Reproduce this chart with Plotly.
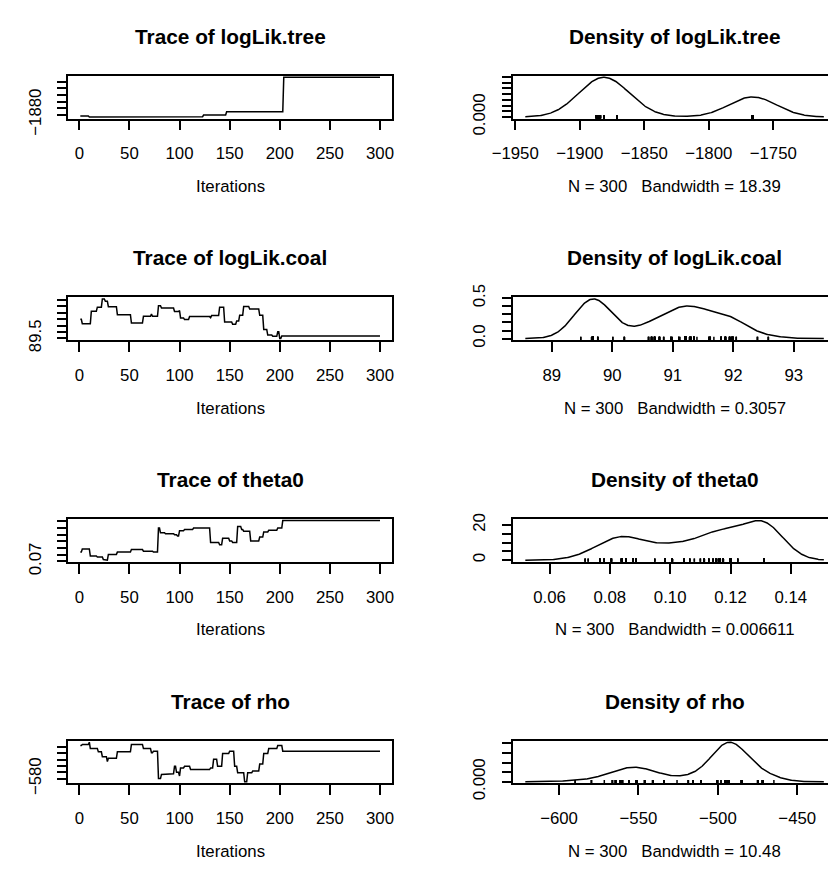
import numpy as np
import plotly.graph_objects as go

# ---------------- data ----------------
N_ITER = 300
ITERATIONS = np.arange(1, N_ITER + 1)

PARAMS = ["logLik.tree", "logLik.coal", "theta0", "rho"]
BANDWIDTHS = [18.39, 0.3057, 0.006611, 10.48]
BANDWIDTH_TEXT = ["18.39", "0.3057", "0.006611", "10.48"]

# Each chain is stored as runs: first iteration of a run and the value held there
TREE_RUN_START = [1, 10, 29, 101, 124, 147, 204]
TREE_RUN_VALUE = [-1884, -1887, -1885, -1886, -1881, -1871, -1766]

COAL_RUN_START = [1, 3, 12, 18, 23, 26, 29, 38, 52, 64, 72, 73, 79, 82, 95, 100, 101,
                  105, 110, 131, 132, 140, 145, 153, 157, 160, 164, 170, 180, 184, 188,
                  193, 198, 200, 202]
COAL_RUN_VALUE = [90.99, 90.65, 91.62, 91.94, 92.58, 92.40, 91.98, 91.35, 90.70, 91.22,
                  91.40, 91.22, 92.05, 91.87, 91.60, 91.68, 91.10, 90.97, 91.20, 91.12,
                  91.28, 91.94, 90.78, 90.60, 90.85, 91.30, 92.00, 91.80, 91.30, 90.20,
                  89.76, 89.66, 90.01, 89.48, 89.68]

THETA_RUN_START = [1, 3, 11, 18, 24, 26, 29, 38, 52, 64, 74, 79, 81, 86, 95, 98, 100,
                   105, 114, 131, 140, 143, 150, 153, 158, 162, 164, 171, 180, 184, 189,
                   198, 203]
THETA_RUN_VALUE = [0.0839, 0.0887, 0.0781, 0.0767, 0.0728, 0.0718, 0.0805, 0.0839,
                   0.0877, 0.0853, 0.0839, 0.1200, 0.1128, 0.1113, 0.1100, 0.1080,
                   0.1160, 0.1176, 0.1200, 0.0983, 0.0949, 0.1046, 0.1007, 0.0983,
                   0.1224, 0.1176, 0.1152, 0.1007, 0.1065, 0.1142, 0.1166, 0.1200,
                   0.1311]

RHO_RUN_START = [1, 3, 10, 11, 19, 23, 28, 29, 38, 52, 64, 72, 74, 79, 82, 86, 95, 97,
                 100, 101, 105, 111, 131, 134, 138, 143, 150, 155, 158, 165, 168, 173,
                 180, 184, 189, 198, 203]
RHO_RUN_VALUE = [-474.9, -471.8, -464.7, -485.0, -495.2, -510.5, -525.7, -515.6,
                 -495.2, -471.8, -485.0, -498.0, -493.0, -579.6, -566.4, -564.4,
                 -541.0, -560.0, -571.5, -546.1, -541.0, -551.2, -546.1, -518.6,
                 -541.0, -500.3, -493.2, -541.0, -561.3, -589.8, -561.3, -556.0,
                 -533.9, -500.3, -485.0, -474.9, -493.2]

# axis ticks and the labels R managed to print
TRACE_X_TICKS = [0, 50, 100, 150, 200, 250, 300]
TRACE_Y_TICKS = [
    [-1880, -1860, -1840, -1820, -1800, -1780],
    [89.5, 90.0, 90.5, 91.0, 91.5, 92.0, 92.5],
    [0.07, 0.08, 0.09, 0.10, 0.11, 0.12, 0.13],
    [-580, -560, -540, -520, -500, -480],
]
TRACE_Y_LABELS = [
    ["\u22121880", "", "", "", "", ""],
    ["89.5", "", "", "", "", "", ""],
    ["0.07", "", "", "", "", "", ""],
    ["\u2212580", "", "", "", "", ""],
]
DENS_X_TICKS = [
    [-1950, -1900, -1850, -1800, -1750],
    [89, 90, 91, 92, 93],
    [0.06, 0.08, 0.10, 0.12, 0.14],
    [-600, -550, -500, -450],
]
DENS_X_LABELS = [
    ["\u22121950", "\u22121900", "\u22121850", "\u22121800", "\u22121750"],
    ["89", "90", "91", "92", "93"],
    ["0.06", "0.08", "0.10", "0.12", "0.14"],
    ["\u2212600", "\u2212550", "\u2212500", "\u2212450"],
]
DENS_Y_TICKS = [
    [0, 0.002, 0.004, 0.006, 0.008, 0.010, 0.012, 0.014],
    [0, 0.1, 0.2, 0.3, 0.4, 0.5],
    [0, 5, 10, 15, 20],
    [0, 0.005, 0.010, 0.015, 0.020],
]
DENS_Y_LABELS = [
    ["0.000", "", "", "", "", "", "", ""],
    ["0.0", "", "", "", "", "0.5"],
    ["0", "", "", "", "20"],
    ["0.000", "", "", "", ""],
]

RUNS = [(TREE_RUN_START, TREE_RUN_VALUE), (COAL_RUN_START, COAL_RUN_VALUE),
        (THETA_RUN_START, THETA_RUN_VALUE), (RHO_RUN_START, RHO_RUN_VALUE)]


def expand(starts, values):
    bounds = list(starts) + [N_ITER + 1]
    return np.repeat(np.asarray(values, float), np.diff(bounds))


def kde(x, bw, n=512, cut=3):
    grid = np.linspace(x.min() - cut * bw, x.max() + cut * bw, n)
    z = (grid[:, None] - x[None, :]) / bw
    dens = np.exp(-0.5 * z * z).sum(axis=1) / (len(x) * bw * np.sqrt(2 * np.pi))
    return grid, dens


def padded(lo, hi, f=0.04):
    w = hi - lo
    return lo - f * w, hi + f * w


# ---------------- geometry (pixels) ----------------
W, H = 830, 878
LEFT_BOX = (47.7, 381.0)
RIGHT_BOX = (506.0, 838.0)   # right panel runs past the window edge
ROW_TOP0, ROW_STEP = 65.0, 229.45
BOX_H = 44.3
FONT = "Liberation Sans, Arial, Helvetica, sans-serif"
TICK_SIZE = 16.8
TITLE_SIZE = 20.8
LW = 1.5


def fx(p):
    return p / W


def fy(p):
    return 1 - p / H


fig = go.Figure()
layout = dict(
    width=W, height=H, margin=dict(l=0, r=0, t=0, b=0),
    paper_bgcolor="white", plot_bgcolor="white", showlegend=False,
    font=dict(family=FONT, size=TICK_SIZE, color="black"),
)
annotations = []

axis_common = dict(showgrid=False, zeroline=False, showline=True, linecolor="black",
                   linewidth=LW, ticks="outside", ticklen=10, tickwidth=LW,
                   tickcolor="black", tickfont=dict(family=FONT, size=TICK_SIZE, color="black"))

for i, (starts, vals) in enumerate(RUNS):
    chain = expand(starts, vals)
    top = ROW_TOP0 + i * ROW_STEP
    bottom = top + BOX_H
    ydom = [fy(bottom), fy(top)]

    # ---- trace plot ----
    ax_t = 2 * i + 1
    ax_d = 2 * i + 2
    fig.add_trace(go.Scatter(x=ITERATIONS, y=chain, mode="lines",
                             line=dict(color="black", width=LW),
                             xaxis=f"x{ax_t}", yaxis=f"y{ax_t}", hoverinfo="skip"))
    layout[f"xaxis{ax_t}"] = dict(axis_common, domain=[fx(LEFT_BOX[0]), fx(LEFT_BOX[1])],
                                  anchor=f"y{ax_t}", range=list(padded(1, N_ITER)),
                                  mirror=True, tickvals=TRACE_X_TICKS,
                                  ticktext=[str(t) for t in TRACE_X_TICKS],
                                  ticklabelstandoff=9)
    layout[f"yaxis{ax_t}"] = dict(axis_common, domain=ydom, anchor=f"x{ax_t}",
                                  range=list(padded(chain.min(), chain.max())),
                                  mirror=True, tickvals=TRACE_Y_TICKS[i],
                                  ticktext=TRACE_Y_LABELS[i], tickangle=-90,
                                  ticklabelstandoff=9)

    # ---- density plot ----
    grid, dens = kde(chain, BANDWIDTHS[i])
    fig.add_trace(go.Scatter(x=grid, y=dens, mode="lines",
                             line=dict(color="black", width=LW),
                             xaxis=f"x{ax_d}", yaxis=f"y{ax_d}", hoverinfo="skip"))
    fig.add_trace(go.Scatter(x=chain, y=np.zeros_like(chain), mode="markers",
                             marker=dict(symbol="line-ns", size=2.5,
                                         line=dict(color="black", width=1.5)),
                             xaxis=f"x{ax_d}", yaxis=f"y{ax_d}", hoverinfo="skip"))
    xl, xr = padded(grid[0], grid[-1])
    x_at_edge = xl + (W - RIGHT_BOX[0]) / (RIGHT_BOX[1] - RIGHT_BOX[0]) * (xr - xl)
    layout[f"xaxis{ax_d}"] = dict(axis_common, domain=[fx(RIGHT_BOX[0]), 1.0],
                                  anchor=f"y{ax_d}", range=[xl, x_at_edge], mirror=True,
                                  tickvals=DENS_X_TICKS[i], ticktext=DENS_X_LABELS[i],
                                  ticklabelstandoff=9)
    layout[f"yaxis{ax_d}"] = dict(axis_common, domain=ydom, anchor=f"x{ax_d}",
                                  range=list(padded(0, dens.max())), mirror=False,
                                  tickvals=DENS_Y_TICKS[i], ticktext=DENS_Y_LABELS[i],
                                  tickangle=-90, ticklabelstandoff=10)

    # ---- titles and axis labels ----
    lc = (LEFT_BOX[0] + LEFT_BOX[1]) / 2
    rc = (RIGHT_BOX[0] + RIGHT_BOX[1]) / 2
    for cx, txt in [(lc, f"Trace of {PARAMS[i]}"), (rc, f"Density of {PARAMS[i]}")]:
        annotations.append(dict(text=txt, x=fx(cx), y=fy(top - 41), xref="paper",
                                yref="paper", xanchor="center", yanchor="middle",
                                showarrow=False,
                                font=dict(family=FONT, size=TITLE_SIZE, color="black",
                                          weight="bold")))
    xlab_r = f"N = {N_ITER}\u00a0\u00a0\u00a0Bandwidth = {BANDWIDTH_TEXT[i]}"
    for cx, txt in [(lc, "Iterations"), (rc, xlab_r)]:
        annotations.append(dict(text=txt, x=fx(cx), y=fy(bottom + 70.5), xref="paper",
                                yref="paper", xanchor="center", yanchor="middle",
                                showarrow=False,
                                font=dict(family=FONT, size=TICK_SIZE, color="black")))

layout["annotations"] = annotations
fig.update_layout(**layout)
fig.write_html("out.html", config={"displayModeBar": False},
               post_script="document.body.style.margin='0';document.body.style.overflow='hidden';")
